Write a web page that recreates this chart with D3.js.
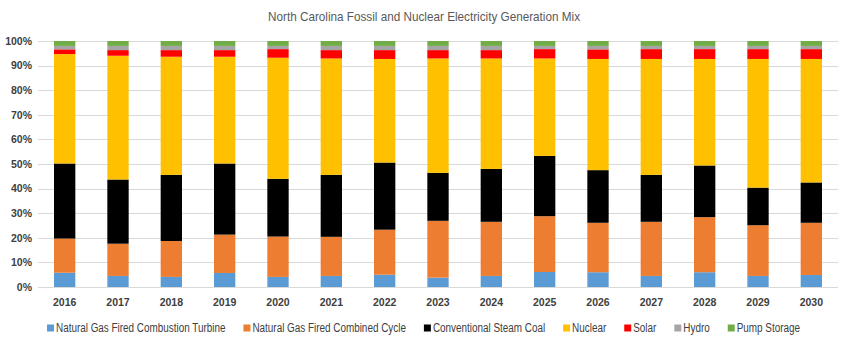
<!DOCTYPE html>
<html>
<head>
<meta charset="utf-8">
<script src="https://cdn.jsdelivr.net/npm/d3@7"></script>
<style>
  body { margin: 0; background: #fff; }
  svg { display: block; }
</style>
</head>
<body>
<svg id="chart" width="850" height="348"></svg>
<script>
// years on the x axis
const years = ['2016', '2017', '2018', '2019', '2020', '2021', '2022', '2023',
               '2024', '2025', '2026', '2027', '2028', '2029', '2030'];

// share of generation (%) per source
const combustionTurbine = [5.8, 4.5, 4.1, 5.7, 4.1, 4.5, 5.0, 3.8, 4.5, 6.1, 6.0, 4.5, 6.0, 4.5, 4.9];
const combinedCycle = [13.9, 13.1, 14.6, 15.6, 16.4, 15.9, 18.3, 23.1, 22.0, 22.7, 20.1, 22.0, 22.4, 20.6, 21.2];
const steamCoal = [30.5, 26.1, 26.9, 28.9, 23.5, 25.2, 27.3, 19.5, 21.5, 24.5, 21.4, 19.1, 21.0, 15.3, 16.4];
const nuclear = [44.5, 50.3, 48.0, 43.4, 49.2, 47.3, 42.1, 46.5, 44.9, 39.6, 45.2, 47.1, 43.3, 52.3, 50.2];
const solar = [1.9, 2.3, 2.7, 2.7, 3.5, 3.4, 3.6, 3.4, 3.4, 3.8, 3.9, 4.0, 4.0, 4.0, 4.0];
const hydro = [1.4, 1.7, 1.7, 1.7, 1.3, 1.7, 1.7, 1.7, 1.7, 1.3, 1.4, 1.3, 1.3, 1.3, 1.3];
const pumpStorage = [2.0, 2.0, 2.0, 2.0, 2.0, 2.0, 2.0, 2.0, 2.0, 2.0, 2.0, 2.0, 2.0, 2.0, 2.0];

const seriesNames = ['Natural Gas Fired Combustion Turbine', 'Natural Gas Fired Combined Cycle',
                     'Conventional Steam Coal', 'Nuclear', 'Solar', 'Hydro', 'Pump Storage'];
const yTicks = [0, 10, 20, 30, 40, 50, 60, 70, 80, 90, 100];

const colors = ['#5B9BD5', '#ED7D31', '#000000', '#FFC000', '#FF0000', '#A5A5A5', '#70AD47'];
const font = '"Liberation Sans", Arial, sans-serif';

const seriesValues = [combustionTurbine, combinedCycle, steamCoal, nuclear, solar, hydro, pumpStorage];
const table = years.map(function(y, i) {
    let row = { year: y };
    seriesNames.forEach(function(n, s) { row[n] = seriesValues[s][i]; });
    return row;
});

const margin = { left: 38, right: 12, top: 41, bottom: 61 };
const width = 850, height = 348;

const svg = d3.select('#chart');

const x = d3.scaleBand()
    .domain(years)
    .range([margin.left, width - margin.right])
    .paddingInner(0.6)
    .paddingOuter(0.3);

const y = d3.scaleLinear()
    .domain([0, 1])
    .range([height - margin.bottom, margin.top]);

// gridlines
svg.append('g')
    .selectAll('line')
    .data(yTicks)
    .enter()
    .append('line')
    .attr('x1', margin.left)
    .attr('x2', width - margin.right)
    .attr('y1', function(d) { return Math.round(y(d / 100)) + 0.5; })
    .attr('y2', function(d) { return Math.round(y(d / 100)) + 0.5; })
    .attr('stroke', '#D9D9D9')
    .attr('stroke-width', 1);

// y axis labels
const yAxis = d3.axisLeft(y)
    .tickValues(yTicks.map(function(d) { return d / 100; }))
    .tickFormat(d3.format('.0%'))
    .tickSize(0)
    .tickPadding(6);

svg.append('g')
    .attr('transform', 'translate(' + margin.left + ',0)')
    .call(yAxis)
    .call(function(g) { g.select('.domain').remove(); })
    .selectAll('text')
    .attr('font-family', 'Arial, "Liberation Sans", sans-serif')
    .attr('font-size', 10.5)
    .attr('font-weight', 'bold')
    .attr('fill', '#404040');

// stacked bars
const stack = d3.stack()
    .keys(seriesNames)
    .offset(d3.stackOffsetExpand);

const layers = stack(table);

svg.append('g')
    .selectAll('g')
    .data(layers)
    .enter()
    .append('g')
    .attr('fill', function(d, i) { return colors[i]; })
    .selectAll('rect')
    .data(function(d) { return d; })
    .enter()
    .append('rect')
    .attr('x', function(d) { return x(d.data.year); })
    .attr('width', x.bandwidth())
    .attr('y', function(d) { return y(d[1]); })
    .attr('height', function(d) { return y(d[0]) - y(d[1]); });

// x axis labels
const xAxis = d3.axisBottom(x).tickSize(0).tickPadding(12);

svg.append('g')
    .attr('transform', 'translate(0,' + (height - margin.bottom) + ')')
    .call(xAxis)
    .call(function(g) { g.select('.domain').remove(); })
    .selectAll('text')
    .attr('font-family', 'Arial, "Liberation Sans", sans-serif')
    .attr('font-size', 10.5)
    .attr('font-weight', 'bold')
    .attr('fill', '#404040');

// title
svg.append('text')
    .attr('x', 424)
    .attr('y', 21)
    .attr('text-anchor', 'middle')
    .attr('font-family', font)
    .attr('font-size', 13)
    .attr('fill', '#595959')
    .attr('textLength', 312)
    .attr('lengthAdjust', 'spacingAndGlyphs')
    .text('North Carolina Fossil and Nuclear Electricity Generation Mix');

// legend
const legend = svg.append('g');
const items = legend.selectAll('g')
    .data(seriesNames)
    .enter()
    .append('g');

items.append('rect')
    .attr('width', 7)
    .attr('height', 7)
    .attr('y', -7.5)
    .attr('fill', function(d, i) { return colors[i]; });

items.append('text')
    .attr('x', 9)
    .attr('font-family', font)
    .attr('font-size', 12)
    .attr('fill', '#404040')
    .text(function(d) { return d; });

// squeeze the text a bit so the legend spans the same width as the original
const legendLeft = 47, legendRight = 800, sq = 9, gap = 18;
const natural = [];
items.each(function() { natural.push(d3.select(this).select('text').node().getComputedTextLength()); });
const fixed = seriesNames.length * sq + (seriesNames.length - 1) * gap;
const k = (legendRight - legendLeft - fixed) / d3.sum(natural);

let cursor = 0;
items.each(function(d, i) {
    const g = d3.select(this);
    const w = natural[i] * k;
    g.attr('transform', 'translate(' + cursor + ',0)');
    g.select('text')
        .attr('textLength', w)
        .attr('lengthAdjust', 'spacingAndGlyphs');
    cursor += sq + w + gap;
});
legend.attr('transform', 'translate(' + legendLeft + ',' + 332 + ')');
</script>
</body>
</html>
